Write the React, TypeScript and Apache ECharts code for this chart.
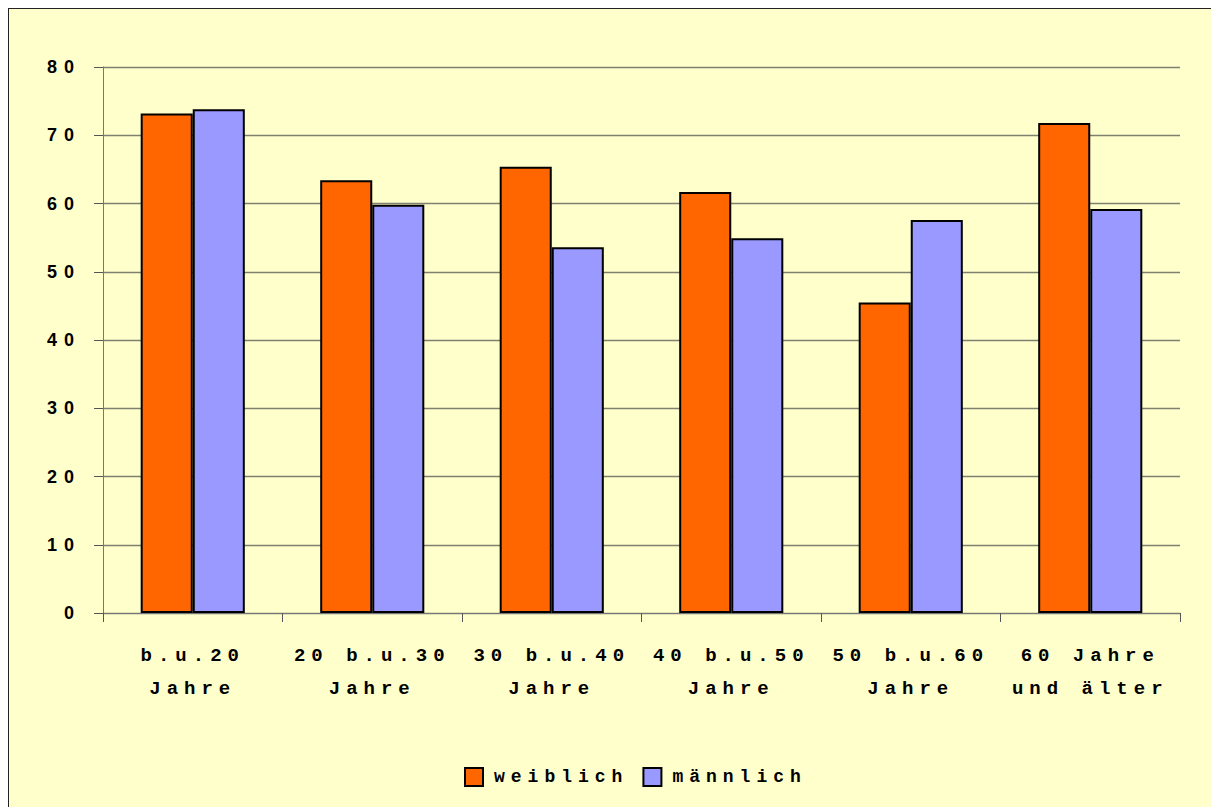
import React, { useEffect, useRef } from "react";
import * as echarts from "echarts";

const categories = [
  "b.u.20\nJahre",
  "20 b.u.30\nJahre",
  "30 b.u.40\nJahre",
  "40 b.u.50\nJahre",
  "50 b.u.60\nJahre",
  "60 Jahre\nund älter",
];
const weiblich = [73.2, 63.4, 65.4, 61.7, 45.5, 71.8];
const maennlich = [73.8, 59.8, 53.6, 54.9, 57.6, 59.2];
const seriesNames = ["weiblich", "männlich"];
const yMin = 0;
const yMax = 80;
const yInterval = 10;

const CSS = `
html, body { overflow: hidden; }
#chartbox text[style*="Mono"], #chartbox text[font-family*="Mono"] { letter-spacing: 6px; }
#chartbox text[style*="Liberation Sans"], #chartbox text[font-family*="Liberation Sans"] { letter-spacing: 7px; }
`;

export default function App() {
  const ref = useRef<HTMLDivElement>(null);
  useEffect(() => {
    if (!ref.current) return;
    const chart = echarts.init(ref.current, undefined, { renderer: "svg" });
    const mono = "'Liberation Mono', 'Courier New', monospace";
    const sans = "'Liberation Sans', Arial, sans-serif";
    chart.setOption({
      animation: false,
      backgroundColor: "#FFFFCC",
      graphic: [
        {
          type: "line",
          shape: { x1: 0.5, y1: 0, x2: 0.5, y2: 900 },
          style: { stroke: "#222", lineWidth: 1 },
          silent: true,
        },
        {
          type: "line",
          shape: { x1: 0, y1: 0.5, x2: 1300, y2: 0.5 },
          style: { stroke: "#222", lineWidth: 1 },
          silent: true,
        },
      ],
      grid: { left: 95, right: 31, top: 59, bottom: 194, containLabel: false },
      legend: {
        left: 451,
        top: 754,
        itemWidth: 18,
        itemHeight: 18,
        itemGap: 62,
        icon: "rect",
        itemStyle: { borderColor: "#000", borderWidth: 2 },
        textStyle: {
          fontFamily: mono,
          fontWeight: "bold",
          fontSize: 18,
          color: "#000",
          padding: [0, 0, 0, 6],
        },
        data: seriesNames,
      },
      xAxis: {
        type: "category",
        data: categories,
        boundaryGap: true,
        axisLine: { show: true, lineStyle: { color: "#777", width: 1 } },
        axisTick: { show: true, length: 9, lineStyle: { color: "#555" }, alignWithLabel: false },
        axisLabel: {
          interval: 0,
          margin: 26,
          fontFamily: mono,
          fontWeight: "bold",
          fontSize: 19,
          lineHeight: 33,
          color: "#000",
        },
        splitLine: { show: false },
      },
      yAxis: {
        type: "value",
        min: yMin,
        max: yMax,
        interval: yInterval,
        axisLine: { show: true, lineStyle: { color: "#777", width: 1 } },
        axisTick: { show: true, length: 9, lineStyle: { color: "#555" } },
        axisLabel: {
          margin: 22,
          fontFamily: sans,
          fontWeight: "bold",
          fontSize: 18,
          color: "#000",
        },
        splitLine: { show: true, lineStyle: { color: "#808070", width: 1.3 } },
      },
      series: [
        {
          name: seriesNames[0],
          type: "bar",
          data: weiblich,
          barGap: "0%",
          barCategoryGap: "42%",
          itemStyle: { color: "#FF6600", borderColor: "#000", borderWidth: 2 },
        },
        {
          name: seriesNames[1],
          type: "bar",
          data: maennlich,
          barGap: "0%",
          barCategoryGap: "42%",
          itemStyle: { color: "#9999FF", borderColor: "#000", borderWidth: 2 },
        },
      ],
    });
    return () => chart.dispose();
  }, []);
  return (
    <>
      <style>{CSS}</style>
      <div
        id="chartbox"
        ref={ref}
        style={{ position: "fixed", left: 8, top: 8, width: 1203, height: 799, overflow: "hidden" }}
      />
    </>
  );
}
